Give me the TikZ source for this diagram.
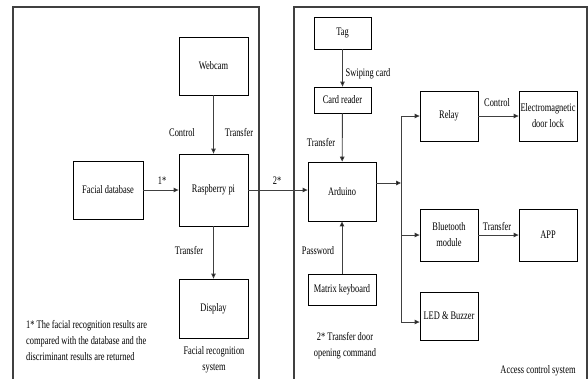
\documentclass[tikz,border=0pt]{standalone}
\usepackage{fontspec}
\setmainfont{Liberation Serif}[FakeStretch=0.73]
\usepackage{tikz}
\usetikzlibrary{calc,positioning,arrows.meta}

\tikzset{
  blk/.style={draw=black,line width=0.8pt,minimum width=#1,inner sep=1pt,align=center},
  lbl/.style={inner sep=0pt,align=center},
  link/.style={draw=black!75,line width=0.9pt,-{Triangle[length=5pt,width=4.5pt,fill=black]}},
  frame/.style={draw=black!75,line width=1.1pt}
}

\begin{document}
\begin{tikzpicture}[x=1pt,y=-1pt,font=\fontsize{11.5}{16}\selectfont]
		\useasboundingbox (0,0) rectangle (588,378);
		
		% the two system frames
		\draw[frame] (13,380) -- (13,7) -- (259,7) -- (259,380);
		\draw[frame] (294,380) -- (294,7) -- (587,7) -- (587,380);
		
		% facial recognition system
		\node[blk=69pt,minimum height=58pt] (webcam) at (213.5,66) {Webcam};
		\node[blk=69pt,minimum height=72pt] (rpi) at (213.5,190) {Raspberry pi};
		\node[blk=70pt,minimum height=58pt] (facedb) at (108,190) {Facial database};
		\node[blk=69pt,minimum height=59pt] (display) at (213.5,308.5) {Display};
		
		\draw[link] (webcam) -- (rpi);
		\draw[link] (facedb) -- (rpi);
		\draw[link] (rpi) -- (display);
		
		\node[lbl] (ctrlA) at (182,133) {Control};
		\node[lbl] (trA) at (239,133) {Transfer};
		\node[lbl] (one) at (162,181) {1*};
		\node[lbl] (trB) at (189,251) {Transfer};
		\node[lbl,align=left,anchor=west] (note1) at (26,340) {1* The facial recognition results are\\compared with the database and the\\discriminant results are returned};
		\node[lbl] (facesys) at (214,360) {Facial recognition\\system};
		
		% access control system
		\node[blk=57pt,minimum height=32pt] (tag) at (342.5,33) {Tag};
		\node[blk=57pt,minimum height=26pt] (reader) at (342.5,100) {Card reader};
		\node[blk=68pt,minimum height=59pt] (arduino) at (342,191.5) {Arduino};
		\node[blk=68pt,minimum height=31pt] (keys) at (342,289.5) {Matrix keyboard};
		\node[blk=58pt,minimum height=50pt] (relay) at (449,116) {Relay};
		\node[blk=58pt,minimum height=50pt] (lock) at (548,116) {Electromagnetic\\door lock};
		\node[blk=58pt,minimum height=52pt] (bt) at (449,235) {Bluetooth\\module};
		\node[blk=58pt,minimum height=52pt] (app) at (548,235) {APP};
		\node[blk=58pt,minimum height=48pt] (led) at (449,316) {LED \& Buzzer};
		
		\draw[link] (rpi.east) -- (rpi.east -| arduino.west);
		\draw[link] (tag) -- (reader);
		\draw[link] (reader) -- (arduino);
		\draw[link] (keys) -- (arduino);
		
		% bus from the arduino
		\coordinate (bustop) at (401,116);
		\coordinate (busmid) at (401,183);
		\coordinate (busbot) at (401,322);
		\draw[link] (arduino.east |- busmid) -- (busmid);
		\draw[draw=black!75,line width=0.9pt] (bustop) -- (busbot);
		\draw[link] (bustop) -- (relay.west);
		\draw[link] (bustop |- bt.west) -- (bt.west);
		\draw[link] (busbot) -- (busbot -| led.west);
		\draw[link] (relay) -- (lock);
		\draw[link] (bt) -- (app);
		
		\node[lbl] (two) at (277,181) {2*};
		\node[lbl] (swipe) at (368,74) {Swiping card};
		\node[lbl] (trC) at (321,143) {Transfer};
		\node[lbl] (ctrlB) at (497,103) {Control};
		\node[lbl] (trD) at (497,227) {Transfer};
		\node[lbl] (pwd) at (318,251) {Password};
		\node[lbl] (note2) at (345,346) {2* Transfer door\\opening command};
		\node[lbl] (accsys) at (538,371) {Access control system};
	\end{tikzpicture}
\end{document}
